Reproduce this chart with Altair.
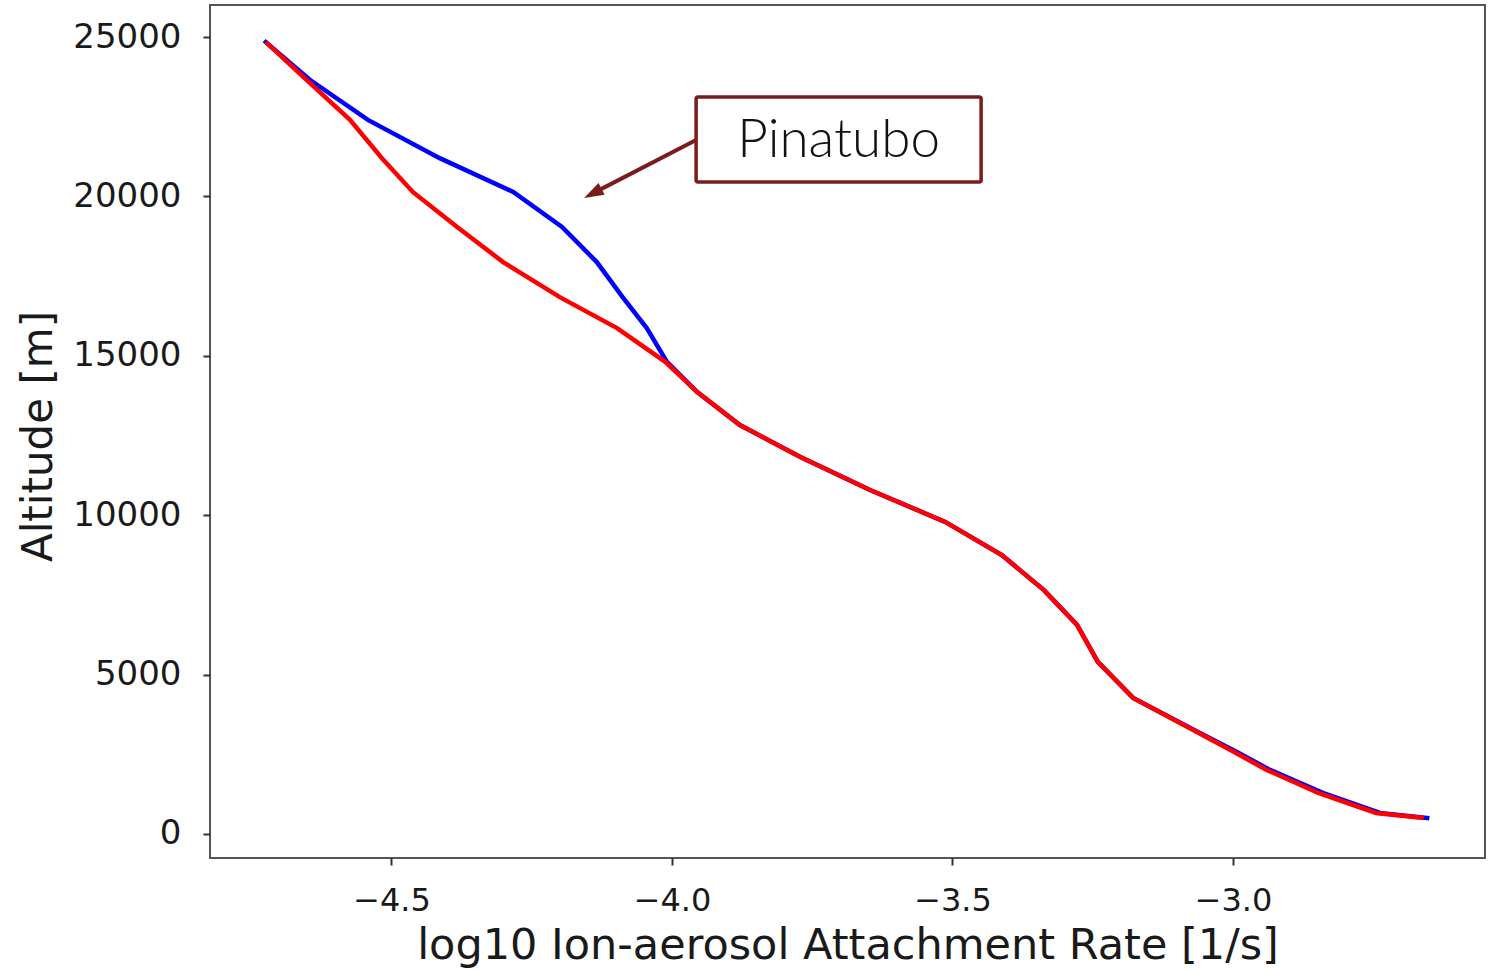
import altair as alt
import pandas as pd

# Altitude levels [m] of the profile
altitude = [24840, 23650, 22400, 21200, 20140, 19040, 17940, 16840, 15870, 14810,
            13860, 12830, 11830, 10790, 9790, 8750, 7650, 6560, 5400, 4270,
            3170, 2570, 2010, 1290, 660, 500]

# log10 ion-aerosol attachment rate [1/s]
rate_pinatubo = [-4.724, -4.645, -4.542, -4.414, -4.283, -4.196, -4.134, -4.088, -4.045, -4.009,
                 -3.955, -3.879, -3.772, -3.647, -3.513, -3.412, -3.337, -3.278, -3.241, -3.178,
                 -3.059, -2.993, -2.934, -2.840, -2.738, -2.654]
rate_background = [-4.724, -4.651, -4.574, -4.517, -4.462, -4.383, -4.301, -4.200, -4.098, -4.012,
                   -3.955, -3.879, -3.772, -3.647, -3.513, -3.412, -3.337, -3.278, -3.241, -3.178,
                   -3.061, -2.998, -2.940, -2.848, -2.745, -2.660]

# Annotation geometry (data coordinates)
label_text = "Pinatubo"
box_x = [-3.957, -3.449]
box_y = [20450, 23120]
arrow_from = [-3.957, 21770]
arrow_head = [-4.1394, 20110]

x_ticks = [-4.5, -4.0, -3.5, -3.0]
y_ticks = [0, 5000, 10000, 15000, 20000, 25000]
x_domain = [-4.8235, -2.5508]
y_domain = [-753, 26004]

dark_red = "#7b1c1c"

df = pd.DataFrame({
    "altitude": altitude * 2,
    "rate": rate_pinatubo + rate_background,
    "series": ["Pinatubo"] * len(altitude) + ["Background"] * len(altitude),
})

x_scale = alt.Scale(domain=x_domain, nice=False, zero=False)
y_scale = alt.Scale(domain=y_domain, nice=False, zero=False)

x_enc = alt.X(
    "rate:Q", scale=x_scale,
    axis=alt.Axis(
        title="log10 Ion-aerosol Attachment Rate [1/s]", values=x_ticks, format=".1f",
        titleFontSize=43, titleFont="DejaVu Sans", titleFontWeight="normal",
        titleColor="#1a1a1a", titleY=100, titleBaseline="alphabetic",
        labelFontSize=32, labelFont="DejaVu Sans", labelColor="#1a1a1a", labelPadding=20,
        tickSize=7, tickWidth=2, tickColor="#333333", domain=False, grid=False,
    ),
)
y_enc = alt.Y(
    "altitude:Q", scale=y_scale,
    axis=alt.Axis(
        title="Altitude [m]", values=y_ticks, format="d",
        titleFontSize=42, titleFont="DejaVu Sans", titleFontWeight="normal",
        titleColor="#1a1a1a", titleX=-172, titleY=431, titleBaseline="middle",
        titleAngle=270,
        labelFontSize=34, labelFont="DejaVu Sans", labelColor="#1a1a1a", labelPadding=22,
        tickSize=7, tickWidth=2, tickColor="#333333", domain=False, grid=False,
    ),
)

base = alt.Chart(df)

pinatubo_line = base.transform_filter(alt.datum.series == "Pinatubo").mark_line(
    color="#0000ff", strokeWidth=4.5, strokeCap="square"
).encode(x=x_enc, y=y_enc, order=alt.Order("altitude:Q", sort="descending"))

background_line = base.transform_filter(alt.datum.series == "Background").mark_line(
    color="#ff0000", strokeWidth=4.5
).encode(x=x_enc, y=y_enc, order=alt.Order("altitude:Q", sort="descending"))

box_df = pd.DataFrame({"x": [box_x[0]], "x2": [box_x[1]], "y": [box_y[0]], "y2": [box_y[1]],
                       "tx": [(box_x[0] + box_x[1]) / 2], "ty": [(box_y[0] + box_y[1]) / 2],
                       "label": [label_text]})
box = alt.Chart(box_df).mark_rect(
    fill="white", stroke=dark_red, strokeWidth=3.5, cornerRadius=2
).encode(
    x=alt.X("x:Q", scale=x_scale), x2="x2:Q",
    y=alt.Y("y:Q", scale=y_scale), y2="y2:Q",
)
label = alt.Chart(box_df).mark_text(
    font="Lato", fontSize=53, fontWeight=300, color="#111111",
    baseline="middle", align="center", dy=2
).encode(
    x=alt.X("tx:Q", scale=x_scale), y=alt.Y("ty:Q", scale=y_scale), text="label:N",
)

arrow_df = pd.DataFrame({"x": [arrow_from[0]], "y": [arrow_from[1]],
                         "x2": [arrow_head[0]], "y2": [arrow_head[1]]})
arrow_line = alt.Chart(arrow_df).mark_rule(color=dark_red, strokeWidth=4).encode(
    x=alt.X("x:Q", scale=x_scale), y=alt.Y("y:Q", scale=y_scale), x2="x2:Q", y2="y2:Q",
)
head_df = pd.DataFrame({"x": [arrow_head[0]], "y": [arrow_head[1]]})
arrow_tip = alt.Chart(head_df).mark_point(
    shape="M0,-1L0.6,0.8L-0.6,0.8Z", size=484, filled=True, opacity=1,
    color=dark_red, angle=242.6,
).encode(x=alt.X("x:Q", scale=x_scale), y=alt.Y("y:Q", scale=y_scale))

chart = alt.layer(
    pinatubo_line, background_line, arrow_line, arrow_tip, box, label
).properties(
    width=1275, height=853,
    autosize=alt.AutoSizeParams(type="none"),
    padding={"left": 210, "top": 5, "right": 14, "bottom": 112},
    background="white",
).configure_view(
    stroke="#555555", strokeWidth=2,
)

chart.save("out.html", embed_options={"renderer": "svg", "actions": False})
